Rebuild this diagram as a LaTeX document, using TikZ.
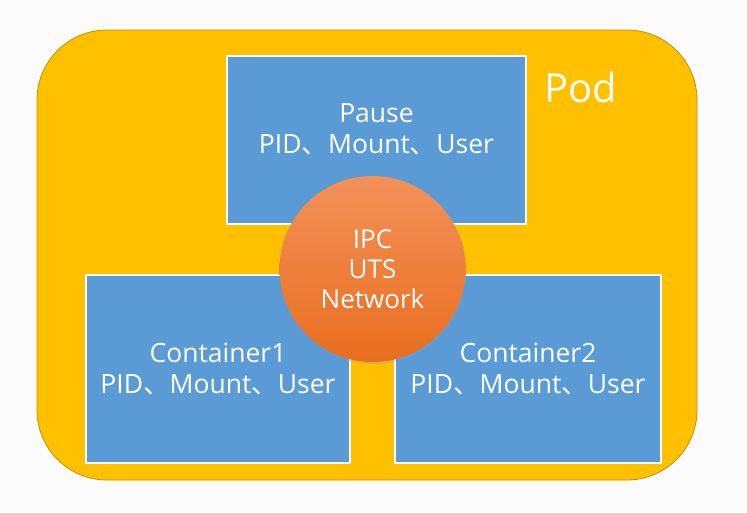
\documentclass[tikz,border=0pt]{standalone}
\usepackage{fontspec}
\setmainfont{Open Sans}
\newfontfamily\cjk{Noto Sans CJK SC}
\usepackage{tikz}
\usetikzlibrary{positioning, calc, shadows}
\definecolor{podyellow}{HTML}{FFC000}
\definecolor{podedge}{HTML}{BF9000}
\definecolor{boxblue}{HTML}{5B9BD5}
\definecolor{nstop}{HTML}{F3915A}
\definecolor{nsbottom}{HTML}{E96E1E}
\newcommand{\dun}{{\cjk 、}}
\tikzset{
  pod/.style={rectangle, draw=podedge, line width=0.8pt, fill=podyellow,
              rounded corners=70pt, minimum width=660pt, minimum height=450pt},
  ctr/.style={rectangle, draw=white, line width=2.2pt, fill=boxblue,
              text=white, align=center, font=\fontsize{26.5}{31}\selectfont},
  ns/.style={circle, minimum size=186pt, inner sep=0pt, text=white,
             align=center, top color=nstop, bottom color=nsbottom,
             font=\fontsize{26}{30}\selectfont,
             drop shadow={shadow xshift=1pt, shadow yshift=-2pt, fill=black!40, opacity=0.35}}
}

\begin{document}
\begin{tikzpicture}[x=1pt, y=-1pt]
    \useasboundingbox[fill=gray!3] (0,0) rectangle (747,512);
    \node[pod] (pod) at (367,255) {};
    \node[text=white, font=\fontsize{40}{44}\selectfont] (podlabel) at (581,87) {Pod};

    \node[ctr, minimum width=299pt, minimum height=168pt, text depth=22pt] (pause) at (376.5,140) {Pause\\PID\dun Mount\dun User};
    \node[ctr, minimum width=264pt, minimum height=188pt] (ctr1) at (218,369) {Container1\\PID\dun Mount\dun User};
    \node[ctr, minimum width=266pt, minimum height=188pt] (ctr2) at (528,369) {Container2\\PID\dun Mount\dun User};

    \node[ns] (shared) at (372.5,269) {IPC\\UTS\\Network};
\end{tikzpicture}
\end{document}
